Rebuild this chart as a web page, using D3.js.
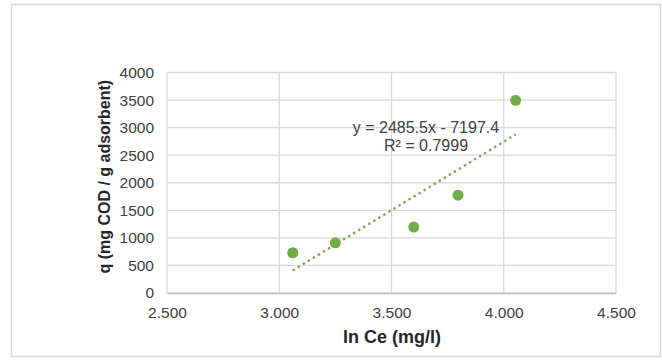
<!DOCTYPE html>
<html>
<head>
<meta charset="utf-8">
<script src="https://cdn.jsdelivr.net/npm/d3@7"></script>
<style>
  html, body { margin: 0; padding: 0; background: #fff; }
  svg { display: block; font-family: "Liberation Sans", Arial, sans-serif; }
</style>
</head>
<body>
<svg id="chart" width="662" height="360"></svg>
<script>
// Adsorption data: ln Ce against q
const lnCe = [3.060, 3.250, 3.599, 3.796, 4.053];
const qValues = [730, 911, 1196, 1775, 3496];
const xTicks = [2.5, 3.0, 3.5, 4.0, 4.5];
const yTicks = [0, 500, 1000, 1500, 2000, 2500, 3000, 3500, 4000];
// Linear trendline as stated in its label
const trendSlope = 2485.5;
const trendIntercept = -7197.4;
const trendR2 = 0.7999;

const svg = d3.select("#chart");
const W = 662, H = 360;

// Chart area frame
svg.append("rect")
  .attr("x", 11.5).attr("y", 4.5)
  .attr("width", 649).attr("height", 352)
  .attr("fill", "#fff")
  .attr("stroke", "#d9d9d9")
  .attr("stroke-width", 1.5);

const plot = { left: 167, right: 616, top: 72.5, bottom: 293 };

const x = d3.scaleLinear().domain([2.5, 4.5]).range([plot.left, plot.right]);
const y = d3.scaleLinear().domain([0, 4000]).range([plot.bottom, plot.top]);

// Gridlines
const grid = svg.append("g");
grid.selectAll("line.h").data(yTicks).join("line")
  .attr("x1", plot.left).attr("x2", plot.right)
  .attr("y1", d => y(d)).attr("y2", d => y(d))
  .attr("stroke", "#d9d9d9").attr("stroke-width", 1.3);
grid.selectAll("line.v").data(xTicks).join("line")
  .attr("y1", plot.top).attr("y2", plot.bottom)
  .attr("x1", d => x(d)).attr("x2", d => x(d))
  .attr("stroke", "#d9d9d9").attr("stroke-width", 1.3);

// Axes (labels only, no tick marks)
const xAxis = d3.axisBottom(x).tickValues(xTicks).tickSize(0).tickPadding(14)
  .tickFormat(d3.format(".3f"));
const gx = svg.append("g").attr("transform", `translate(0,${plot.bottom})`).call(xAxis);
gx.select(".domain").attr("stroke", "#bfbfbf").attr("stroke-width", 1.3);
gx.selectAll("text").attr("font-size", "15.5px").attr("fill", "#404040")
  .attr("font-family", "Liberation Sans, Arial, sans-serif");

const yAxis = d3.axisLeft(y).tickValues(yTicks).tickSize(0).tickPadding(13)
  .tickFormat(d3.format("d"));
const gy = svg.append("g").attr("transform", `translate(${plot.left},0)`).call(yAxis);
gy.select(".domain").remove();
gy.selectAll("text").attr("font-size", "15.5px").attr("fill", "#404040")
  .attr("font-family", "Liberation Sans, Arial, sans-serif");

// Trendline across the data range
const xMin = d3.min(lnCe), xMax = d3.max(lnCe);
const trend = t => trendSlope * t + trendIntercept;
svg.append("line")
  .attr("x1", x(xMin)).attr("y1", y(trend(xMin)))
  .attr("x2", x(xMax)).attr("y2", y(trend(xMax)))
  .attr("stroke", "#70ad47")
  .attr("stroke-width", 2.4)
  .attr("stroke-dasharray", "2.4,3.5");

// Data points
svg.append("g").selectAll("circle").data(lnCe).join("circle")
  .attr("cx", d => x(d))
  .attr("cy", (d, i) => y(qValues[i]))
  .attr("r", 5.5)
  .attr("fill", "#70ad47");

// Trendline equation label
const eq = svg.append("text")
  .attr("x", 426).attr("y", 132.5)
  .attr("text-anchor", "middle")
  .attr("font-size", "16px")
  .attr("fill", "#404040");
eq.append("tspan").attr("x", 426)
  .text(`y = ${trendSlope}x - ${Math.abs(trendIntercept)}`);
eq.append("tspan").attr("x", 426).attr("dy", 18)
  .text(`R² = ${trendR2}`);

// Axis titles
svg.append("text")
  .attr("x", 392).attr("y", 343)
  .attr("text-anchor", "middle")
  .attr("font-size", "18px").attr("font-weight", "bold")
  .attr("fill", "#262626")
  .text("ln Ce (mg/l)");

svg.append("text")
  .attr("transform", "translate(110,176.7) rotate(-90)")
  .attr("text-anchor", "middle")
  .attr("font-size", "16px").attr("font-weight", "bold")
  .attr("fill", "#262626")
  .text("q (mg COD / g adsorbent)");
</script>
</body>
</html>
